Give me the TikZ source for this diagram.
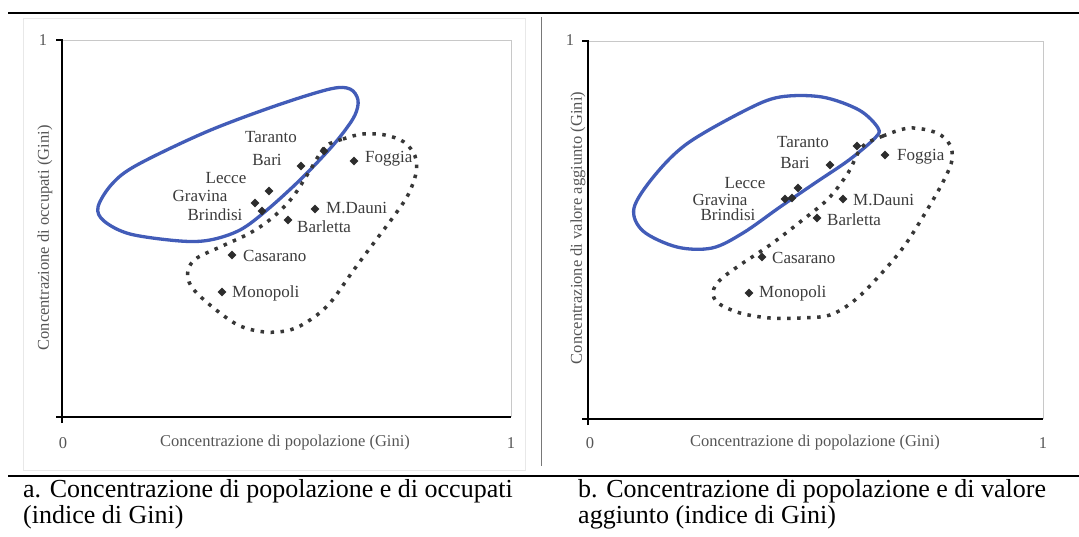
\documentclass[tikz,border=0pt]{standalone}
\usepackage{fontspec}
\setmainfont{Liberation Serif}
\usetikzlibrary{shapes.geometric}
\definecolor{blueline}{RGB}{66,92,184}
\definecolor{dotc}{RGB}{55,55,55}
\definecolor{txt}{RGB}{60,60,60}
\definecolor{axtxt}{RGB}{85,85,85}
\definecolor{ptc}{RGB}{45,45,45}
\definecolor{boxc}{RGB}{200,200,200}
\definecolor{outc}{RGB}{232,232,232}
\definecolor{divc}{RGB}{120,120,120}
\begin{document}
\begin{tikzpicture}[x=1pt,y=-1pt,
  pt/.style={diamond, fill=ptc, inner sep=0pt, minimum size=9pt},
  lbl/.style={text=txt, font=\fontsize{17}{19}\selectfont, inner sep=0pt},
  axlbl/.style={text=axtxt, font=\fontsize{16.5}{18}\selectfont, inner sep=0pt},
  captext/.style={font=\fontsize{26}{26}\selectfont, inner sep=0pt, anchor=base west},
  axisline/.style={line width=1.6pt, black},
  frameline/.style={draw=boxc, line width=0.8pt},
  blob/.style={draw=blueline, line width=3.3pt},
  dots/.style={draw=dotc, line width=3.5pt, dash pattern=on 3.5pt off 6.5pt},
  rulel/.style={line width=2.5pt, black}]
\useasboundingbox (0,0) rectangle (1079,536);
\fill[white] (0,0) rectangle (1079,536);

% rules
\coordinate (rt1) at (8,13); \coordinate (rt2) at (1079,13);
\coordinate (rb1) at (8,476); \coordinate (rb2) at (1079,476);
\draw[rulel] (rt1) -- (rt2);
\draw[rulel] (rb1) -- (rb2);
\coordinate (dv1) at (541,17); \coordinate (dv2) at (541,466);
\draw[draw=divc, line width=1pt] (dv1) -- (dv2);
% outer chart area (left)
\draw[draw=outc, line width=0.6pt] (23,18) rectangle (525,470);

% ================= LEFT CHART =================
\coordinate (LO) at (62,417);
\coordinate (LY) at (62,40);
\coordinate (LX) at (511,417);
\coordinate (LTR) at (511,40);
\draw[frameline] (LY) -- (LTR) -- (LX);
\draw[axisline] (62,423) -- (LY) -- (56,40);
\draw[axisline] (56,417) -- (LX);
\node[axlbl] (l1y) at (43,40) {1};
\node[axlbl] (l0x) at (63,443) {0};
\node[axlbl] (l1x) at (511,443) {1};
\node[axlbl] (lxt) at (285,443) {Concentrazione di popolazione (Gini)};
\node[axlbl, rotate=90] (lyt) at (45,238) {Concentrazione di occupati (Gini)};

\draw[blob] plot[smooth cycle, tension=0.55] coordinates {
 (98,207) (112,184) (137,165) (206,132) (275,106) (330,89) (350,89) (358,100)
 (355,115) (343,133) (327,152) (300,180) (267,210) (240,230) (210,240) (180,241)
 (130,234) (104,221)};
\draw[dots] plot[smooth cycle, tension=0.55] coordinates {
 (325,147) (343,139) (363,134) (385,135) (404,142) (415,156) (416,173) (408,195)
 (394,216) (376,240) (353,271) (330,303) (310,320) (290,330) (265,332) (238,325)
 (210,305) (191,286) (188,270) (197,258) (220,247) (250,233) (272,218) (292,198) (309,172)};

\node[pt] (lTar) at (324,151) {};
\node[pt] (lBar) at (301,166) {};
\node[pt] (lFog) at (354,161) {};
\node[pt] (lLec) at (269,191) {};
\node[pt] (lGra) at (255,203) {};
\node[pt] (lBri) at (262,211) {};
\node[pt] (lMDa) at (315,209) {};
\node[pt] (lBrl) at (288,220) {};
\node[pt] (lCas) at (232,255) {};
\node[pt] (lMon) at (222,292) {};
\node[lbl] (lTarL) at (271,137) {Taranto};
\node[lbl] (lBarL) at (267,160) {Bari};
\node[lbl, anchor=west] (lFogL) at (365,159) {Foggia};
\node[lbl] (lLecL) at (226,178) {Lecce};
\node[lbl] (lGraL) at (200,196) {Gravina};
\node[lbl] (lBriL) at (215,215) {Brindisi};
\node[lbl, anchor=west] (lMDaL) at (326,208) {M.Dauni};
\node[lbl, anchor=west] (lBrlL) at (297,227) {Barletta};
\node[lbl, anchor=west] (lCasL) at (243,256) {Casarano};
\node[lbl, anchor=west] (lMonL) at (232,293) {Monopoli};

% ================= RIGHT CHART =================
\coordinate (RO) at (588,419);
\coordinate (RY) at (588,41);
\coordinate (RX) at (1043,419);
\coordinate (RTR) at (1043,41);
\draw[frameline] (RY) -- (RTR) -- (RX);
\draw[axisline] (588,425) -- (RY) -- (582,41);
\draw[axisline] (582,419) -- (RX);
\node[axlbl] (r1y) at (570,40) {1};
\node[axlbl] (r0x) at (590,443) {0};
\node[axlbl] (r1x) at (1043,443) {1};
\node[axlbl] (rxt) at (815,443) {Concentrazione di popolazione (Gini)};
\node[axlbl, rotate=90] (ryt) at (578,228) {Concentrazione di valore aggiunto (Gini)};

\draw[blob] plot[smooth cycle, tension=0.55] coordinates {
 (634,208) (655,175) (688,143) (746,110) (780,97) (822,97) (859,110) (878,128)
 (875,138) (849,160) (815,183) (780,207) (743,233) (712,248) (677,247) (643,231)};
\draw[dots] plot[smooth cycle, tension=0.55] coordinates {
 (862,147) (883,136) (910,128) (937,133) (950,145) (952,160) (945,178) (930,205)
 (905,245) (880,275) (855,300) (830,315) (800,318) (770,318) (740,313) (718,303)
 (713,292) (720,280) (740,265) (770,245) (800,222) (828,199) (848,173)};

\node[pt] (rTar) at (857,146) {};
\node[pt] (rBar) at (830,165) {};
\node[pt] (rFog) at (885,155) {};
\node[pt] (rLec) at (798,188) {};
\node[pt] (rGra) at (785,199) {};
\node[pt] (rBri) at (792,198) {};
\node[pt] (rMDa) at (843,199) {};
\node[pt] (rBrl) at (817,218) {};
\node[pt] (rCas) at (762,257) {};
\node[pt] (rMon) at (749,293) {};
\node[lbl] (rTarL) at (803,142) {Taranto};
\node[lbl] (rBarL) at (795,163) {Bari};
\node[lbl, anchor=west] (rFogL) at (897,157) {Foggia};
\node[lbl] (rLecL) at (745,183) {Lecce};
\node[lbl] (rGraL) at (720,200) {Gravina};
\node[lbl] (rBriL) at (728,215) {Brindisi};
\node[lbl, anchor=west] (rMDaL) at (853,200) {M.Dauni};
\node[lbl, anchor=west] (rBrlL) at (827,220) {Barletta};
\node[lbl, anchor=west] (rCasL) at (772,258) {Casarano};
\node[lbl, anchor=west] (rMonL) at (759,293) {Monopoli};

% captions
\node[captext] (capa1) at (23,497) {a. Concentrazione di popolazione e di occupati};
\node[captext] (capa2) at (23,523) {(indice di Gini)};
\node[captext] (capb1) at (578,497) {b. Concentrazione di popolazione e di valore};
\node[captext] (capb2) at (578,523) {aggiunto (indice di Gini)};
\end{tikzpicture}
\end{document}
